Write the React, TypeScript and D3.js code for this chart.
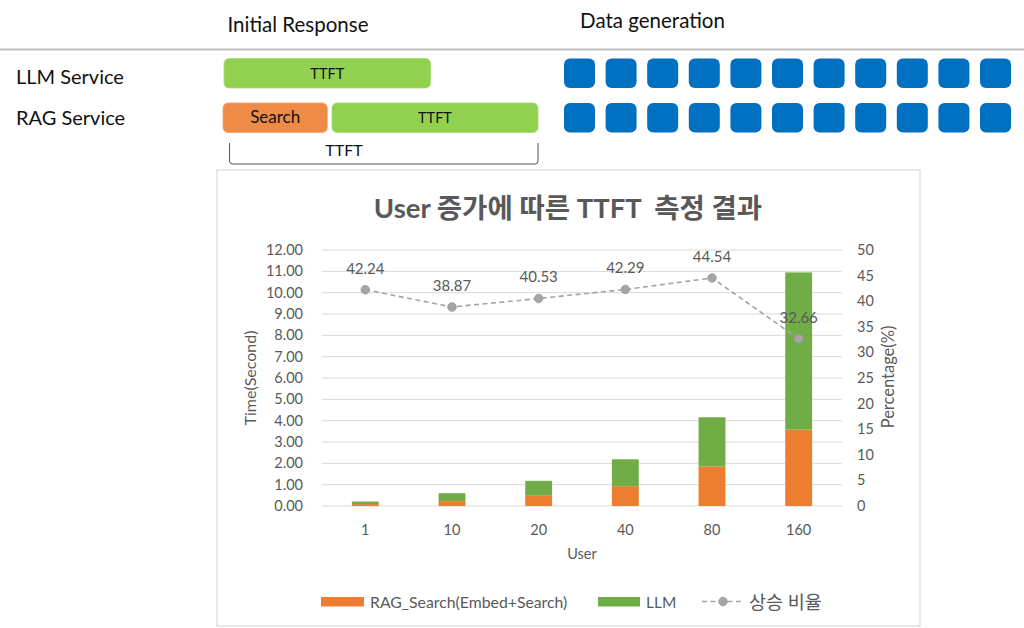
import React from "react";
import * as d3 from "d3";

// chart data
const users = ["1", "10", "20", "40", "80", "160"];
const ragSearch = [0.09, 0.23, 0.48, 0.93, 1.85, 3.58];
const llm = [0.12, 0.37, 0.7, 1.26, 2.31, 7.37];
const riseRatio = [42.24, 38.87, 40.53, 42.29, 44.54, 32.66];
const leftTicks = d3.range(0, 13);
const rightTicks = d3.range(0, 55, 5);

// timing diagram (abstract units: one search step = 1)
const services = ["LLM Service", "RAG Service"];
const llmSegments = [{ label: "TTFT", start: 0.01, end: 1.99, kind: "ttft" }];
const ragSegments = [
  { label: "Search", start: 0, end: 1, kind: "search" },
  { label: "TTFT", start: 1.045, end: 3.02, kind: "ttft" },
];
const tokenCount = 11;

const FONT = "Lato, 'Noto Sans CJK KR', sans-serif";
const TEXT = "#595959";
const ORANGE = "#ED7D31";
const GREEN = "#70AD47";
const GRAY = "#A5A5A5";

const W = 1024,
  H = 628;

const App = () => {
  // ---- diagram scales
  const tx = d3.scaleLinear().domain([0, 3.02]).range([223, 538]);
  const rowY = d3.scaleBand().domain(services).range([58.5, 132.5]).paddingInner(0.337);
  const labelY = d3.scalePoint().domain(services).range([84, 125]);
  const tokenX = d3
    .scaleBand<number>()
    .domain(d3.range(tokenCount))
    .range([564, 1011])
    .paddingInner(0.255);

  // ---- chart scales
  const x = d3
    .scaleBand()
    .domain(users)
    .range([322, 842])
    .paddingInner(0.69)
    .paddingOuter(0.345);
  const yL = d3.scaleLinear().domain([0, 12]).range([506, 250]);
  const yR = d3.scaleLinear().domain([0, 50]).range([506, 250]);

  const rows = users.map((u, i) => ({ user: u, rag: ragSearch[i], llm: llm[i] }));
  const stacked = d3.stack<any>().keys(["rag", "llm"])(rows);
  const colors: Record<string, string> = { rag: ORANGE, llm: GREEN };

  const cx = (u: string) => (x(u) ?? 0) + x.bandwidth() / 2;
  const line = d3
    .line<number>()
    .x((_, i) => cx(users[i]))
    .y((d) => yR(d));

  const segs = [llmSegments, ragSegments];

  return (
    <div style={{ position: "absolute", left: 0, top: 0 }}>
      <svg width={W} height={H} style={{ display: "block", fontFamily: FONT }}>
        <rect width={W} height={H} fill="#fff" />

        {/* ---------- timing diagram ---------- */}
        <text x={298} y={32} textAnchor="middle" fontSize={20.5} fill="#111">
          Initial Response
        </text>
        <text x={652.5} y={28} textAnchor="middle" fontSize={20.5} fill="#111">
          Data generation
        </text>
        <line x1={0} x2={1024} y1={49.5} y2={49.5} stroke="#bfbfbf" strokeWidth={2} />

        {services.map((s, r) => (
          <g key={s}>
            <text x={16} y={labelY(s)} fontSize={20} fill="#111">
              {s}
            </text>
            {segs[r].map((sg) => (
              <g key={sg.label}>
                <rect
                  x={tx(sg.start)}
                  y={rowY(s)}
                  width={tx(sg.end) - tx(sg.start)}
                  height={rowY.bandwidth()}
                  rx={5}
                  fill={sg.kind === "ttft" ? "#92D050" : "#EE8C47"}
                  stroke={sg.kind === "ttft" ? "#A6DA72" : "#F2A36A"}
                  strokeWidth={0.8}
                />
                <text
                  x={(tx(sg.start) + tx(sg.end)) / 2}
                  y={(rowY(s) ?? 0) + rowY.bandwidth() / 2 + 5.5}
                  textAnchor="middle"
                  fontSize={sg.kind === "ttft" ? 14.5 : 17}
                  fill="#111"
                >
                  {sg.label}
                </text>
              </g>
            ))}
            {d3.range(tokenCount).map((k) => (
              <rect
                key={k}
                x={tokenX(k)}
                y={rowY(s)}
                width={tokenX.bandwidth()}
                height={rowY.bandwidth()}
                rx={6}
                fill="#0070C0"
              />
            ))}
          </g>
        ))}

        {/* bracket under RAG row */}
        <path
          d={`M${tx(0.063)},143 V161 q0,3 3,3 H${tx(3.02) - 3} q3,0 3,-3 V143`}
          fill="none"
          stroke="#555"
          strokeWidth={1}
        />
        <text x={344} y={156} textAnchor="middle" fontSize={16} fill="#111">
          TTFT
        </text>

        {/* ---------- chart ---------- */}
        <rect x={217} y={170} width={703} height={456} fill="#fff" stroke="#d9d9d9" strokeWidth={1.2} />
        <text
          x={568}
          y={218}
          textAnchor="middle"
          fontSize={27.5}
          fontWeight="bold"
          fill={TEXT}
          style={{ whiteSpace: "pre" }}
        >
          User 증가에 따른 TTFT  측정 결과
        </text>

        {/* gridlines */}
        {leftTicks.map((t) => (
          <line
            key={t}
            x1={322}
            x2={842}
            y1={yL(t)}
            y2={yL(t)}
            stroke="#d9d9d9"
            strokeWidth={1}
          />
        ))}

        {/* left axis labels */}
        {leftTicks.map((t) => (
          <text
            key={t}
            x={303}
            y={yL(t) + 5}
            textAnchor="end"
            fontSize={14.5}
            fill={TEXT}
          >
            {t.toFixed(2)}
          </text>
        ))}
        {/* right axis labels */}
        {rightTicks.map((t) => (
          <text key={t} x={857} y={yR(t) + 5} fontSize={14.5} fill={TEXT}>
            {t}
          </text>
        ))}

        <text
          transform={`translate(256,378) rotate(-90)`}
          textAnchor="middle"
          fontSize={16}
          fill={TEXT}
        >
          Time(Second)
        </text>
        <text
          transform={`translate(894,377) rotate(-90)`}
          textAnchor="middle"
          fontSize={16.5}
          fill={TEXT}
        >
          Percentage(%)
        </text>

        {/* stacked bars */}
        {stacked.map((layer) => (
          <g key={layer.key} fill={colors[layer.key]}>
            {layer.map((d, i) => (
              <rect
                key={i}
                x={x(users[i])}
                y={yL(d[1])}
                width={x.bandwidth()}
                height={yL(d[0]) - yL(d[1])}
              />
            ))}
          </g>
        ))}

        {/* ratio line */}
        <path
          d={line(riseRatio) ?? ""}
          fill="none"
          stroke={GRAY}
          strokeWidth={1.6}
          strokeDasharray="5,3.5"
        />
        {riseRatio.map((p, i) => (
          <g key={i}>
            <circle cx={cx(users[i])} cy={yR(p)} r={4.3} fill={GRAY} stroke="#999" strokeWidth={0.8} />
            <text
              x={cx(users[i])}
              y={yR(p) - 16}
              textAnchor="middle"
              fontSize={15}
              fill={TEXT}
            >
              {p.toFixed(2)}
            </text>
          </g>
        ))}

        {/* x axis labels */}
        {users.map((u) => (
          <text key={u} x={cx(u)} y={535} textAnchor="middle" fontSize={14.5} fill={TEXT}>
            {u}
          </text>
        ))}
        <text x={582} y={559} textAnchor="middle" fontSize={14.5} fill={TEXT}>
          User
        </text>

        {/* legend */}
        <rect x={321} y={597} width={43} height={9.5} fill={ORANGE} />
        <text x={370} y={608} fontSize={15.8} fill={TEXT}>
          RAG_Search(Embed+Search)
        </text>
        <rect x={598} y={597} width={42} height={9.5} fill={GREEN} />
        <text x={646} y={608} fontSize={15.5} fill={TEXT}>
          LLM
        </text>
        <line
          x1={702}
          x2={744}
          y1={601.5}
          y2={601.5}
          stroke={GRAY}
          strokeWidth={1.6}
          strokeDasharray="5,3.5"
        />
        <circle cx={723} cy={601.5} r={4.3} fill={GRAY} stroke="#999" strokeWidth={0.8} />
        <text x={749} y={609} fontSize={18.5} fill={TEXT}>
          상승 비율
        </text>
      </svg>
    </div>
  );
};

export default App;
